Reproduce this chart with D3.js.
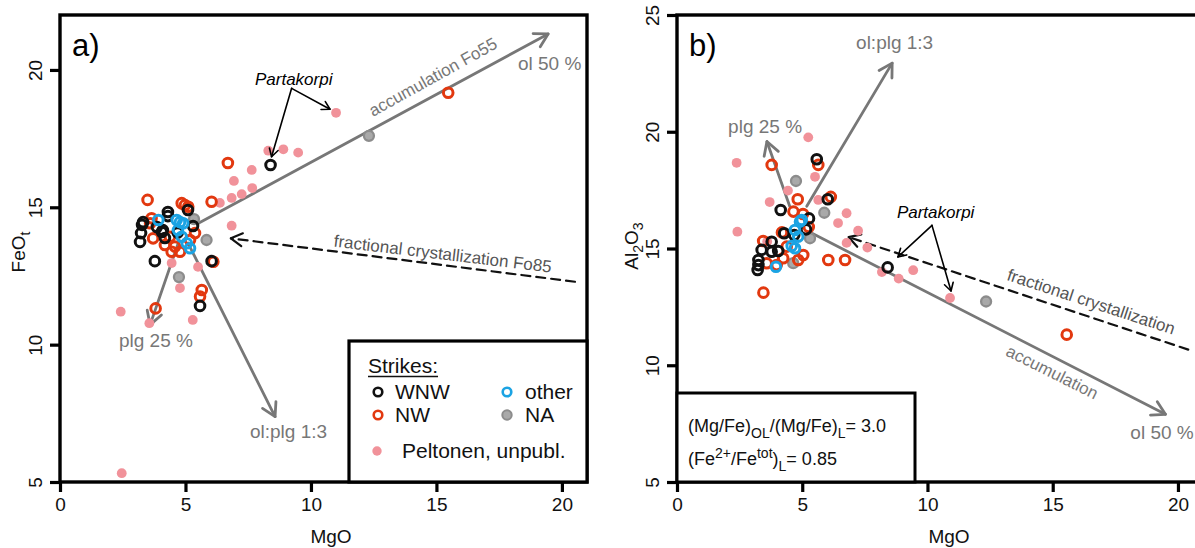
<!DOCTYPE html>
<html><head><meta charset="utf-8">
<script src="https://cdn.jsdelivr.net/npm/d3@7"></script>
<style>
body{margin:0;background:#fff}
svg{display:block}
text{font-family:"Liberation Sans",Arial,Helvetica,sans-serif}
</style>
</head><body>
<svg id="c" width="1195" height="548"></svg>
<script>
// ---------- tick values ----------
const xTicks = [0, 5, 10, 15, 20];
const yTicksA = [5, 10, 15, 20];
const yTicksB = [5, 10, 15, 20, 25];

// ---------- panel a: MgO vs FeOt ----------
const wnwA = [[5.10,14.90],[4.30,14.83],[4.30,14.68],[3.31,14.46],[3.27,14.36],[3.86,14.28],[4.10,14.17],[5.30,14.32],[3.23,14.06],[3.19,13.74],[4.06,14.10],[4.18,13.88],[4.69,14.08],[3.78,13.04],[6.04,13.04],[5.58,11.41],[8.39,16.54]];
const nwA = [[3.49,15.27],[6.04,15.20],[4.85,15.15],[4.98,15.08],[5.11,15.02],[3.65,14.60],[3.71,13.87],[4.18,13.63],[4.45,13.38],[4.78,13.38],[4.58,13.57],[6.11,13.02],[5.65,11.99],[5.58,11.75],[3.81,11.32],[6.69,16.61],[15.47,19.17],[3.59,14.42],[4.38,13.93],[5.38,14.06],[5.18,13.81]];
const otherA = [[3.92,14.54],[4.65,14.54],[4.78,14.46],[4.91,14.42],[4.85,13.93],[5.05,13.69],[5.18,13.51],[4.70,14.17]];
const naA = [[5.84,13.81],[4.74,12.46],[5.34,14.57],[12.31,17.60]];
const peltA = [[6.37,15.16],[6.84,15.34],[7.24,15.48],[7.66,15.70],[6.84,14.33],[4.45,12.97],[5.50,12.83],[4.78,12.06],[2.42,11.20],[3.56,10.78],[5.29,10.90],[2.46,5.32],[11.0,18.44],[8.30,17.06],[8.90,17.11],[9.49,16.99],[7.64,16.36],[6.93,15.96]];

// ---------- panel b: MgO vs Al2O3 ----------
const wnwB = [[5.58,18.82],[6.02,17.11],[4.14,16.65],[5.27,16.29],[5.15,15.82],[4.28,15.65],[4.68,15.58],[3.78,15.29],[3.38,14.94],[4.04,14.89],[3.78,14.86],[3.25,14.51],[3.25,14.29],[3.22,14.08],[8.41,14.19]];
const nwB = [[3.78,18.58],[5.64,18.58],[4.82,17.11],[6.14,17.21],[5.03,16.48],[5.04,14.72],[4.84,14.51],[6.04,14.51],[6.71,14.51],[3.45,13.11],[15.56,11.31],[3.58,14.37],[3.98,14.29],[4.24,14.58],[4.38,15.08],[3.44,15.32],[4.19,15.69],[4.65,16.58],[5.26,15.92]];
const otherB = [[4.91,16.15],[4.71,15.79],[4.58,15.11],[4.71,15.01],[3.95,14.22],[4.84,15.51],[4.98,16.22]];
const naB = [[4.75,17.89],[5.88,16.53],[5.31,15.44],[4.64,14.37],[12.34,12.73]];
const peltB = [[5.24,19.76],[2.38,18.67],[2.41,15.72],[3.70,16.99],[4.43,17.48],[5.51,18.07],[6.77,16.51],[6.43,16.09],[7.23,15.76],[6.77,15.24],[7.60,15.04],[9.43,14.07],[8.18,13.99],[8.85,13.71],[10.90,12.88],[5.64,17.08],[3.60,15.30]];

// ---------- model vectors (data units) ----------
const vecA = [
  {name:"acc",   from:[5.46,14.39], to:[19.45,21.31], dashed:false},
  {name:"plg",   from:[4.75,13.80], to:[3.59,10.72],  dashed:false},
  {name:"olplg", from:[5.10,13.70], to:[8.57,7.38],   dashed:false},
  {name:"frac",  from:[20.52,12.29], to:[6.81,13.87], dashed:true}
];
const vecB = [
  {name:"plg",   from:[4.50,16.81], to:[3.59,19.58],  dashed:false},
  {name:"olplg", from:[5.18,16.81], to:[8.59,22.94],  dashed:false},
  {name:"acc",   from:[5.41,15.64], to:[19.50,7.90],  dashed:false},
  {name:"frac",  from:[20.41,10.67], to:[6.85,15.49], dashed:true}
];
const partaA = {label:[7.77,19.45], from:[9.23,19.33], to:[[8.43,16.84],[10.76,18.57]]};
const partaB = {label:[8.78,16.31], from:[10.18,15.99], to:[[8.82,14.64],[10.94,13.18]]};

const labelsA = [
  {t:"ol 50 %", p:[18.25,20.0], rot:0, cls:"g"},
  {t:"plg 25 %", p:[2.35,9.91], rot:0, cls:"g"},
  {t:"ol:plg 1:3", p:[7.57,6.6], rot:0, cls:"g"},
  {t:"accumulation Fo55", p:[12.47,18.29], rot:-29, cls:"gs"},
  {t:"fractional crystallization Fo85", p:[10.89,13.57], rot:6.8, cls:"ds"}
];
const labelsB = [
  {t:"ol:plg 1:3", p:[7.15,23.54], rot:0, cls:"g"},
  {t:"plg 25 %", p:[2.04,19.95], rot:0, cls:"g"},
  {t:"fractional crystallization", p:[13.13,13.66], rot:18.2, cls:"ds"},
  {t:"accumulation", p:[13.09,10.44], rot:26.5, cls:"gs"},
  {t:"ol 50 %", p:[18.10,6.84], rot:0, cls:"g"}
];

// ---------- styles ----------
const C = {wnw:"#111111", nw:"#e2380f", other:"#1ba3e3", naFill:"#a9a9a9", naStroke:"#8c8c8c", pelt:"#f1929a", arrow:"#777777"};
const FONT = '"Liberation Sans",Arial,Helvetica,sans-serif';

const svg = d3.select("#c");
svg.append("rect").attr("width",1195).attr("height",548).attr("fill","#fff");

function panel(opts){
  const x = d3.scaleLinear().domain([0,21]).range(opts.xr);
  const y = d3.scaleLinear().domain(opts.yd).range([482,15]);
  const g = svg.append("g");

  // axes
  const ax = g.append("g").attr("transform","translate(0,482)")
    .call(d3.axisBottom(x).tickValues(xTicks).tickSize(10).tickPadding(6).tickFormat(d3.format("d")));
  ax.select(".domain").remove();
  ax.selectAll("line").attr("stroke","#000").attr("stroke-width",3.2);
  ax.selectAll("text").attr("font-size",19).attr("font-family",FONT).attr("fill","#111");

  const ay = g.append("g").attr("transform",`translate(${opts.xr[0]},0)`)
    .call(d3.axisLeft(y).tickValues(opts.yt).tickSize(10).tickFormat(d3.format("d")));
  ay.select(".domain").remove();
  ay.selectAll("line").attr("stroke","#000").attr("stroke-width",3.2);
  ay.selectAll("text").attr("font-size",19).attr("font-family",FONT).attr("fill","#111")
    .attr("transform","rotate(-90)").attr("x",0).attr("y",-18).attr("dy",0)
    .attr("text-anchor","middle");

  const cid = "clip"+opts.id;
  svg.append("clipPath").attr("id",cid).append("rect")
    .attr("x",opts.xr[0]).attr("y",15).attr("width",opts.xr[1]-opts.xr[0]).attr("height",467);
  const inner = g.append("g").attr("clip-path",`url(#${cid})`);

  function arrow(gg, x0,y0,x1,y1, col, w, len, dash){
    gg.append("line").attr("x1",x0).attr("y1",y0).attr("x2",x1).attr("y2",y1)
      .attr("stroke",col).attr("stroke-width",w).attr("stroke-linecap","round")
      .attr("stroke-dasharray",dash||null);
    const a = Math.atan2(y1-y0,x1-x0), s = Math.PI/6;
    const p1=[x1-len*Math.cos(a-s), y1-len*Math.sin(a-s)];
    const p2=[x1-len*Math.cos(a+s), y1-len*Math.sin(a+s)];
    gg.append("path").attr("d",`M${p1}L${x1},${y1}L${p2}`).attr("fill","none")
      .attr("stroke",col).attr("stroke-width",w).attr("stroke-linecap","round").attr("stroke-linejoin","round");
  }
  opts.vec.forEach(v=>{
    if(v.dashed) arrow(inner, x(v.from[0]),y(v.from[1]),x(v.to[0]),y(v.to[1]),"#111",2.2,13,"9,6");
    else arrow(inner, x(v.from[0]),y(v.from[1]),x(v.to[0]),y(v.to[1]),C.arrow,2.8,15);
  });

  // points
  inner.selectAll(null).data(opts.pelt).join("circle")
    .attr("cx",d=>x(d[0])).attr("cy",d=>y(d[1])).attr("r",4.9).attr("fill",C.pelt);
  inner.selectAll(null).data(opts.na).join("circle")
    .attr("cx",d=>x(d[0])).attr("cy",d=>y(d[1])).attr("r",5).attr("fill",C.naFill)
    .attr("stroke",C.naStroke).attr("stroke-width",2.3);
  const ring = (data,col)=>inner.selectAll(null).data(data).join("circle")
    .attr("cx",d=>x(d[0])).attr("cy",d=>y(d[1])).attr("r",4.8).attr("fill","none")
    .attr("stroke",col).attr("stroke-width",3);
  ring(opts.nw,C.nw); ring(opts.wnw,C.wnw); ring(opts.other,C.other);

  // labels
  opts.labels.forEach(l=>{
    const px=x(l.p[0]), py=y(l.p[1]);
    const t = inner.append("text").attr("x",px).attr("y",py).text(l.t).attr("font-family",FONT)
      .attr("transform", l.rot?`rotate(${l.rot},${px},${py})`:null);
    if(l.cls==="g") t.attr("font-size",19).attr("fill","#777");
    else if(l.cls==="gs") t.attr("font-size",17).attr("fill","#777");
    else t.attr("font-size",17).attr("fill","#555");
  });

  // Partakorpi
  const pk = opts.parta;
  inner.append("text").attr("x",x(pk.label[0])).attr("y",y(pk.label[1])).text("Partakorpi")
    .attr("font-style","italic").attr("font-size",17).attr("fill","#000").attr("font-family",FONT);
  pk.to.forEach(t=>arrow(inner,x(pk.from[0]),y(pk.from[1]),x(t[0]),y(t[1]),"#000",1.6,9));

  // panel letter
  g.append("text").attr("x",opts.xr[0]+12).attr("y",56).text(opts.letter)
    .attr("font-size",31).attr("fill","#000").attr("font-family",FONT);

  // frame
  g.append("rect").attr("x",opts.xr[0]).attr("y",15).attr("width",opts.xr[1]-opts.xr[0]).attr("height",467)
    .attr("fill","none").attr("stroke","#000").attr("stroke-width",3.4);

  // x title
  g.append("text").attr("x",opts.xt).attr("y",543).attr("text-anchor","middle")
    .attr("font-size",19).attr("fill","#111").attr("font-family",FONT).text("MgO");
  return {x,y,g};
}

const A = panel({id:"a", xr:[60,587], yd:[5,22], yt:yTicksA, vec:vecA, pelt:peltA, na:naA, nw:nwA, wnw:wnwA, other:otherA, labels:labelsA, parta:partaA, letter:"a)", xt:331});
const B = panel({id:"b", xr:[677,1203], yd:[5,25], yt:yTicksB, vec:vecB, pelt:peltB, na:naB, nw:nwB, wnw:wnwB, other:otherB, labels:labelsB, parta:partaB, letter:"b)", xt:949});

// y titles
const ya = svg.append("text").attr("transform","translate(25,252) rotate(-90)").attr("text-anchor","middle")
  .attr("font-size",19).attr("fill","#111").attr("font-family",FONT);
ya.append("tspan").text("FeO");
ya.append("tspan").text("t").attr("font-size",14).attr("dy",5);

const yb = svg.append("text").attr("transform","translate(638,246) rotate(-90)").attr("text-anchor","middle")
  .attr("font-size",19).attr("fill","#111").attr("font-family",FONT);
yb.append("tspan").text("Al");
yb.append("tspan").text("2").attr("font-size",14).attr("dy",5);
yb.append("tspan").text("O").attr("dy",-5);
yb.append("tspan").text("3").attr("font-size",14).attr("dy",5);

// legend (panel a)
const lg = svg.append("g");
lg.append("rect").attr("x",349).attr("y",341).attr("width",238).attr("height",141)
  .attr("fill","#fff").attr("stroke","#000").attr("stroke-width",3.2);
const st = lg.append("text").attr("x",368).attr("y",373).text("Strikes:").attr("font-size",21).attr("fill","#111").attr("font-family",FONT);
const stw = st.node().getComputedTextLength();
lg.append("line").attr("x1",368).attr("x2",368+stw).attr("y1",376.5).attr("y2",376.5).attr("stroke","#111").attr("stroke-width",1.3);
const legItems = [
  {t:"WNW", cx:378, cy:392, tx:395, ty:399, type:"ring", col:C.wnw},
  {t:"NW", cx:378, cy:415, tx:395, ty:422, type:"ring", col:C.nw},
  {t:"other", cx:507, cy:392, tx:525, ty:399, type:"ring", col:C.other},
  {t:"NA", cx:507, cy:415, tx:525, ty:422, type:"na"},
  {t:"Peltonen, unpubl.", cx:377, cy:451, tx:402, ty:458, type:"pelt"}
];
legItems.forEach(d=>{
  const c = lg.append("circle").attr("cx",d.cx).attr("cy",d.cy);
  if(d.type==="ring") c.attr("r",4.3).attr("fill","none").attr("stroke",d.col).attr("stroke-width",2.6);
  else if(d.type==="na") c.attr("r",4.7).attr("fill",C.naFill).attr("stroke",C.naStroke).attr("stroke-width",2);
  else c.attr("r",4.7).attr("fill",C.pelt);
  lg.append("text").attr("x",d.tx).attr("y",d.ty).text(d.t).attr("font-size",21).attr("fill","#111").attr("font-family",FONT);
});

// parameter box (panel b)
const pb = svg.append("g");
pb.append("rect").attr("x",677).attr("y",393).attr("width",238).attr("height",89)
  .attr("fill","#fff").attr("stroke","#000").attr("stroke-width",3);
const t1 = pb.append("text").attr("x",688).attr("y",432).attr("font-size",18).attr("fill","#111").attr("font-family",FONT);
t1.append("tspan").text("(Mg/Fe)");
t1.append("tspan").text("OL").attr("font-size",14).attr("dy",6);
t1.append("tspan").text("/(Mg/Fe)").attr("dy",-6);
t1.append("tspan").text("L").attr("font-size",14).attr("dy",6);
t1.append("tspan").text("= 3.0").attr("dy",-6);
const t2 = pb.append("text").attr("x",688).attr("y",465).attr("font-size",18).attr("fill","#111").attr("font-family",FONT);
t2.append("tspan").text("(Fe");
t2.append("tspan").text("2+").attr("font-size",14).attr("dy",-7);
t2.append("tspan").text("/Fe").attr("dy",7);
t2.append("tspan").text("tot").attr("font-size",14).attr("dy",-7);
t2.append("tspan").text(")").attr("dy",7);
t2.append("tspan").text("L").attr("font-size",14).attr("dy",6);
t2.append("tspan").text("= 0.85").attr("dy",-6);
</script>
</body></html>
